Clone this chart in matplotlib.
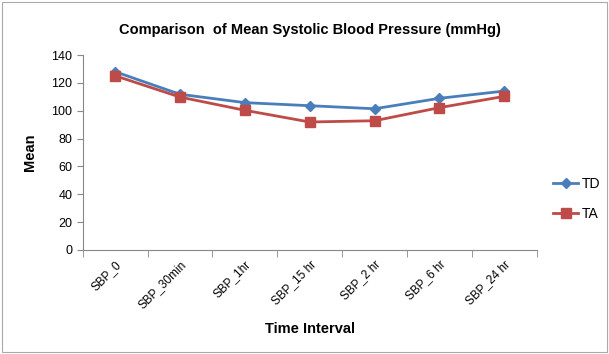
import matplotlib
matplotlib.use("Agg")
import matplotlib.pyplot as plt
from matplotlib.patches import Rectangle

categories = ["SBP_0", "SBP_30min", "SBP_1hr", "SBP_15 hr", "SBP_2 hr", "SBP_6 hr", "SBP_24 hr"]
td = [128, 111.8, 105.8, 103.6, 101.4, 108.9, 114.1]
ta = [125.1, 109.8, 100.3, 91.9, 92.8, 102.2, 110.3]
yticks = [0, 20, 40, 60, 80, 100, 120, 140]

plt.rcParams['font.family'] = ['Liberation Sans', 'DejaVu Sans']

fig = plt.figure(figsize=(6.09, 3.54), dpi=100)
W, H = 609, 354
ax = fig.add_axes([82.7 / W, 1 - 250 / H, (536.7 - 82.7) / W, (250 - 55) / H])

x = list(range(len(categories)))
ax.plot(x, td, color="#4a7ebb", marker="D", markersize=5, linewidth=2, label="TD")
ax.plot(x, ta, color="#be4b48", marker="s", markersize=7, linewidth=2, label="TA")

ax.set_xlim(-0.5, len(categories) - 0.5)
ax.set_ylim(0, 140)
ax.set_yticks(yticks)
ax.set_yticklabels([str(v) for v in yticks], fontsize=9)
ax.set_xticks(x)
ax.set_xticklabels(categories, rotation=45, ha="right", rotation_mode="anchor", fontsize=8.5)
ax.tick_params(axis="x", length=0, pad=6)
ax.set_xticks([i - 0.5 for i in range(len(categories) + 1)], minor=True)
ax.tick_params(axis="x", which="minor", length=5, color="#888888")
ax.tick_params(axis="y", length=4, color="#888888")

for s in ["top", "right"]:
    ax.spines[s].set_visible(False)
for s in ["left", "bottom"]:
    ax.spines[s].set_color("#888888")

ax.set_ylabel("Mean", fontsize=10.5, fontweight="bold", labelpad=10)
ax.set_xlabel("Time Interval", fontsize=10.5, fontweight="bold", labelpad=8)
fig.text(310 / W, 1 - 30 / H, "Comparison  of Mean Systolic Blood Pressure (mmHg)",
         ha="center", va="center", fontsize=10.5, fontweight="bold")

leg = fig.legend(loc="center left", bbox_to_anchor=(553 / W, 1 - 199 / H), frameon=False,
                 fontsize=10, handlelength=1.8, labelspacing=1.2, handletextpad=0.3,
                 borderpad=0, borderaxespad=0)

fig.patches.append(Rectangle((2 / W, 2 / H), 1 - 4 / W, 1 - 4 / H, transform=fig.transFigure,
                             fill=False, edgecolor="#aaaaaa", linewidth=0.8))

fig.savefig("out.png", dpi=100)
